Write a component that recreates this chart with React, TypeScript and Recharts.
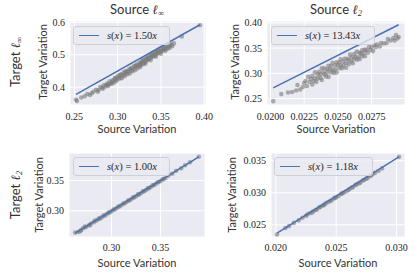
import React from 'react';
import { ComposedChart, Scatter, XAxis, YAxis, CartesianGrid } from 'recharts';

// top-left: source l_inf vs target l_inf
const tlX = [0.252, 0.253, 0.258, 0.262, 0.265, 0.268, 0.270, 0.272, 0.275, 0.277, 0.278, 0.280, 0.282, 0.283, 0.284, 0.286, 0.287, 0.288, 0.289, 0.290, 0.291, 0.292, 0.293, 0.294, 0.295, 0.296, 0.297, 0.297, 0.298, 0.299, 0.300, 0.301, 0.302, 0.303, 0.303, 0.304, 0.305, 0.306, 0.307, 0.308, 0.309, 0.309, 0.310, 0.311, 0.312, 0.313, 0.314, 0.315, 0.315, 0.316, 0.317, 0.318, 0.319, 0.320, 0.321, 0.321, 0.322, 0.323, 0.324, 0.325, 0.326, 0.326, 0.327, 0.327, 0.328, 0.329, 0.329, 0.330, 0.331, 0.332, 0.332, 0.333, 0.333, 0.334, 0.335, 0.335, 0.336, 0.337, 0.338, 0.338, 0.339, 0.339, 0.340, 0.341, 0.341, 0.342, 0.343, 0.344, 0.344, 0.345, 0.345, 0.346, 0.347, 0.347, 0.348, 0.349, 0.350, 0.350, 0.351, 0.352, 0.353, 0.353, 0.354, 0.355, 0.355, 0.356, 0.357, 0.358, 0.359, 0.360, 0.361, 0.362, 0.363, 0.365, 0.374, 0.395];
const tlY = [0.361, 0.357, 0.368, 0.372, 0.379, 0.376, 0.381, 0.386, 0.392, 0.386, 0.391, 0.400, 0.398, 0.395, 0.406, 0.402, 0.407, 0.411, 0.404, 0.409, 0.418, 0.410, 0.414, 0.421, 0.412, 0.420, 0.427, 0.428, 0.418, 0.424, 0.431, 0.436, 0.426, 0.430, 0.437, 0.440, 0.428, 0.437, 0.446, 0.434, 0.441, 0.448, 0.449, 0.440, 0.447, 0.455, 0.442, 0.451, 0.457, 0.460, 0.449, 0.456, 0.465, 0.452, 0.462, 0.467, 0.470, 0.458, 0.466, 0.475, 0.462, 0.468, 0.471, 0.476, 0.480, 0.484, 0.470, 0.476, 0.485, 0.472, 0.478, 0.481, 0.488, 0.490, 0.493, 0.485, 0.487, 0.495, 0.483, 0.490, 0.492, 0.500, 0.500, 0.505, 0.495, 0.497, 0.507, 0.494, 0.499, 0.502, 0.509, 0.512, 0.515, 0.505, 0.508, 0.518, 0.503, 0.510, 0.512, 0.521, 0.526, 0.515, 0.517, 0.512, 0.520, 0.527, 0.518, 0.522, 0.527, 0.521, 0.530, 0.532, 0.526, 0.535, 0.556, 0.591];
const tlLineX = [0.252, 0.395];
const tlLineY = [0.378, 0.5925];
const tlXTicks = [0.25, 0.30, 0.35, 0.40];
const tlYTicks = [0.4, 0.5, 0.6];

// top-right: source l2 vs target l_inf
const trX = [0.0202, 0.0208, 0.0213, 0.0216, 0.0219, 0.0220, 0.0222, 0.0224, 0.0225, 0.0226, 0.0227, 0.0228, 0.0229, 0.0230, 0.0231, 0.0231, 0.0232, 0.0233, 0.0233, 0.0234, 0.0235, 0.0235, 0.0236, 0.0237, 0.0237, 0.0238, 0.0238, 0.0239, 0.0240, 0.0240, 0.0241, 0.0242, 0.0242, 0.0243, 0.0243, 0.0244, 0.0245, 0.0245, 0.0246, 0.0246, 0.0247, 0.0248, 0.0248, 0.0249, 0.0249, 0.0250, 0.0251, 0.0251, 0.0252, 0.0252, 0.0253, 0.0254, 0.0254, 0.0255, 0.0256, 0.0256, 0.0257, 0.0258, 0.0258, 0.0259, 0.0260, 0.0260, 0.0261, 0.0262, 0.0262, 0.0263, 0.0264, 0.0264, 0.0265, 0.0266, 0.0266, 0.0267, 0.0268, 0.0268, 0.0269, 0.0270, 0.0270, 0.0271, 0.0272, 0.0273, 0.0274, 0.0275, 0.0276, 0.0277, 0.0278, 0.0279, 0.0281, 0.0282, 0.0284, 0.0286, 0.0287, 0.0289, 0.0291, 0.0292, 0.0293, 0.0294, 0.0295];
const trY = [0.245, 0.259, 0.262, 0.263, 0.266, 0.277, 0.268, 0.273, 0.281, 0.285, 0.275, 0.293, 0.283, 0.289, 0.278, 0.295, 0.285, 0.302, 0.290, 0.283, 0.298, 0.290, 0.303, 0.291, 0.298, 0.310, 0.287, 0.302, 0.298, 0.310, 0.294, 0.308, 0.302, 0.315, 0.293, 0.308, 0.302, 0.315, 0.307, 0.321, 0.301, 0.316, 0.308, 0.322, 0.302, 0.316, 0.310, 0.322, 0.316, 0.328, 0.310, 0.323, 0.315, 0.329, 0.320, 0.311, 0.329, 0.326, 0.318, 0.337, 0.324, 0.332, 0.320, 0.338, 0.329, 0.333, 0.327, 0.343, 0.332, 0.341, 0.328, 0.339, 0.334, 0.346, 0.340, 0.347, 0.334, 0.346, 0.341, 0.352, 0.346, 0.352, 0.344, 0.356, 0.352, 0.357, 0.353, 0.360, 0.359, 0.360, 0.368, 0.365, 0.370, 0.365, 0.376, 0.369, 0.372];
const trLineX = [0.0202, 0.0295];
const trLineY = [0.2713, 0.3962];
const trXTicks = [0.02, 0.0225, 0.025, 0.0275];
const trYTicks = [0.25, 0.30, 0.35, 0.40];

// bottom-left: source l_inf vs target l2
const blX = [0.263, 0.266, 0.268, 0.269, 0.271, 0.273, 0.274, 0.277, 0.278, 0.279, 0.282, 0.283, 0.285, 0.287, 0.288, 0.290, 0.292, 0.293, 0.295, 0.297, 0.298, 0.300, 0.302, 0.303, 0.305, 0.307, 0.308, 0.310, 0.312, 0.313, 0.315, 0.317, 0.318, 0.320, 0.322, 0.323, 0.325, 0.327, 0.328, 0.330, 0.332, 0.333, 0.335, 0.337, 0.338, 0.340, 0.342, 0.343, 0.345, 0.347, 0.348, 0.350, 0.352, 0.353, 0.355, 0.358, 0.362, 0.366, 0.371, 0.375, 0.380, 0.389];
const blY = [0.264, 0.265, 0.266, 0.268, 0.271, 0.274, 0.273, 0.276, 0.276, 0.279, 0.281, 0.284, 0.284, 0.287, 0.287, 0.289, 0.292, 0.292, 0.294, 0.297, 0.297, 0.299, 0.302, 0.302, 0.304, 0.307, 0.307, 0.309, 0.312, 0.312, 0.314, 0.317, 0.317, 0.319, 0.322, 0.322, 0.324, 0.327, 0.327, 0.329, 0.332, 0.332, 0.334, 0.337, 0.337, 0.339, 0.342, 0.342, 0.344, 0.347, 0.347, 0.349, 0.352, 0.352, 0.354, 0.358, 0.361, 0.366, 0.370, 0.375, 0.380, 0.389];
const blLineX = [0.263, 0.389];
const blLineY = [0.263, 0.389];
const blXTicks = [0.30, 0.35];
const blYTicks = [0.30, 0.35];

// bottom-right: source l2 vs target l2
const brX = [0.0201, 0.0208, 0.0211, 0.0215, 0.0219, 0.0222, 0.0225, 0.0226, 0.0228, 0.0230, 0.0231, 0.0233, 0.0234, 0.0236, 0.0237, 0.0239, 0.0240, 0.0241, 0.0243, 0.0245, 0.0246, 0.0248, 0.0249, 0.0250, 0.0252, 0.0254, 0.0255, 0.0256, 0.0258, 0.0260, 0.0261, 0.0263, 0.0264, 0.0266, 0.0267, 0.0269, 0.0270, 0.0272, 0.0273, 0.0275, 0.0276, 0.0278, 0.0279, 0.0280, 0.0282, 0.0285, 0.0288, 0.0302];
const brY = [0.0235, 0.0245, 0.0248, 0.0253, 0.0257, 0.0261, 0.0264, 0.0266, 0.0268, 0.0269, 0.0271, 0.0273, 0.0274, 0.0277, 0.0278, 0.0280, 0.0281, 0.0283, 0.0285, 0.0287, 0.0288, 0.0291, 0.0292, 0.0293, 0.0295, 0.0298, 0.0299, 0.0300, 0.0302, 0.0304, 0.0306, 0.0308, 0.0309, 0.0312, 0.0313, 0.0315, 0.0316, 0.0319, 0.0320, 0.0322, 0.0323, 0.0326, 0.0327, 0.0329, 0.0331, 0.0334, 0.0338, 0.0356];
const brLineX = [0.0201, 0.0302];
const brLineY = [0.0237, 0.0356];
const brXTicks = [0.020, 0.025, 0.030];
const brYTicks = [0.025, 0.030, 0.035];

const slopes = ['1.50', '13.43', '1.00', '1.18'];

const BG = '#EAEAF2';
const BLUE = '#4C72B0';
const SERIF = '"Liberation Serif", "DejaVu Serif", serif';
const SANS = 'Lato, "Liberation Sans", sans-serif';
const YAXIS_W = 40;
const XAXIS_H = 24;
const MT = 3;
const MR = 12;

const zip = (xs: number[], ys: number[]) => xs.map((x, i) => ({ x, y: ys[i] }));

const Dot = (props: any) => (
  <circle cx={props.cx} cy={props.cy} r={2.3} fill="#7c7c7c" fillOpacity={0.6} />
);
const NoDot = () => <g />;

function Legend({ left, top, width, slope }: any) {
  return (
    <div
      style={{
        position: 'absolute', left, top, width, height: 19, boxSizing: 'border-box',
        border: '1px solid #cfcfd6', borderRadius: 3, background: 'rgba(234,234,242,0.8)',
        display: 'flex', alignItems: 'center',
      }}
    >
      <div style={{ marginLeft: 5, width: 20, height: 1.5, background: BLUE }} />
      <div style={{ marginLeft: 8, fontFamily: SERIF, fontSize: 10.5, color: '#262626', whiteSpace: 'nowrap' }}>
        <i>s</i>(<i>x</i>) = {slope}<i>x</i>
      </div>
    </div>
  );
}

function Panel({ box, xDomain, yDomain, xTicks, yTicks, xFmt, yFmt, points, line, xMargin }: any) {
  const width = YAXIS_W + box.w + MR;
  const height = MT + box.h + XAXIS_H;
  const tick = { fontFamily: SERIF, fontSize: 10, fill: '#262626' };
  return (
    <div style={{ position: 'absolute', left: box.x - YAXIS_W, top: box.y - MT, fontFamily: SERIF }}>
      <ComposedChart width={width} height={height} margin={{ top: MT, right: MR, bottom: 0, left: 0 }}>
        <CartesianGrid fill={BG} stroke="#ffffff" strokeWidth={1} />
        <XAxis
          type="number" dataKey="x" domain={xDomain} ticks={xTicks} allowDataOverflow
          tickFormatter={xFmt} axisLine={false} tickLine={false} tickSize={0} tickMargin={xMargin}
          height={XAXIS_H} tick={tick} interval={0}
        />
        <YAxis
          type="number" dataKey="y" domain={yDomain} ticks={yTicks} allowDataOverflow
          tickFormatter={yFmt} axisLine={false} tickLine={false} tickSize={0} tickMargin={5}
          width={YAXIS_W} tick={tick} interval={0}
        />
        <Scatter data={points} shape={Dot} isAnimationActive={false} />
        <Scatter data={line} shape={NoDot} line={{ stroke: BLUE, strokeWidth: 1.5 }} isAnimationActive={false} />
      </ComposedChart>
    </div>
  );
}

function Label({ x, y, text, size, rotate, children }: any) {
  return (
    <div
      style={{
        position: 'absolute', left: x, top: y, transform: `translate(-50%, -50%)${rotate ? ' rotate(-90deg)' : ''}`,
        fontFamily: SANS, fontSize: size, color: '#333333', whiteSpace: 'nowrap', lineHeight: 1,
      }}
    >
      {text}{children}
    </div>
  );
}

const Ell = ({ sub }: { sub: string }) => (
  <span style={{ fontFamily: SERIF, fontStyle: 'italic' }}>
    ℓ<sub style={{ fontSize: '0.65em', verticalAlign: '-0.25em' }}>{sub}</sub>
  </span>
);

export default function App() {
  const f2 = (v: number) => v.toFixed(2);
  const f1 = (v: number) => v.toFixed(1);
  const f3 = (v: number) => v.toFixed(3);
  const f4 = (v: number) => v.toFixed(4);
  return (
    <div style={{ position: 'absolute', left: 0, top: 0, width: 415, height: 277, background: '#fff', overflow: 'hidden' }}>
      <Panel
        box={{ x: 70, y: 21, w: 136, h: 84 }} xDomain={[0.245, 0.402]} yDomain={[0.345, 0.604]}
        xTicks={tlXTicks} yTicks={tlYTicks} xFmt={f2} yFmt={f1} xMargin={8}
        points={zip(tlX, tlY)} line={zip(tlLineX, tlLineY)}
      />
      <Panel
        box={{ x: 267, y: 21, w: 138, h: 84 }} xDomain={[0.01974, 0.02997]} yDomain={[0.2374, 0.4036]}
        xTicks={trXTicks} yTicks={trYTicks} xFmt={f4} yFmt={f2} xMargin={8}
        points={zip(trX, trY)} line={zip(trLineX, trLineY)}
      />
      <Panel
        box={{ x: 69, y: 153, w: 136, h: 84 }} xDomain={[0.2567, 0.3953]} yDomain={[0.2567, 0.3953]}
        xTicks={blXTicks} yTicks={blYTicks} xFmt={f2} yFmt={f2} xMargin={7}
        points={zip(blX, blY)} line={zip(blLineX, blLineY)}
      />
      <Panel
        box={{ x: 271, y: 153, w: 134, h: 84 }} xDomain={[0.0196, 0.0307]} yDomain={[0.0231, 0.0362]}
        xTicks={brXTicks} yTicks={brYTicks} xFmt={f3} yFmt={f3} xMargin={7}
        points={zip(brX, brY)} line={zip(brLineX, brLineY)}
      />

      <Legend left={73} top={26} width={97} slope={slopes[0]} />
      <Legend left={271} top={26} width={104} slope={slopes[1]} />
      <Legend left={73} top={157} width={97} slope={slopes[2]} />
      <Legend left={274} top={157} width={99} slope={slopes[3]} />

      <Label x={137} y={10} size={13} text="Source "><Ell sub="∞" /></Label>
      <Label x={336} y={10} size={13} text="Source "><Ell sub="2" /></Label>
      <Label x={16} y={62} size={13} rotate text="Target "><Ell sub="∞" /></Label>
      <Label x={16} y={195} size={13} rotate text="Target "><Ell sub="2" /></Label>

      <Label x={137} y={128} size={11} text="Source Variation" />
      <Label x={336} y={128} size={11} text="Source Variation" />
      <Label x={137} y={262} size={11} text="Source Variation" />
      <Label x={338} y={262} size={11} text="Source Variation" />

      <Label x={42} y={62} size={11} rotate text="Target Variation" />
      <Label x={234} y={62} size={11} rotate text="Target Variation" />
      <Label x={38} y={195} size={11} rotate text="Target Variation" />
      <Label x={231} y={195} size={11} rotate text="Target Variation" />
    </div>
  );
}
